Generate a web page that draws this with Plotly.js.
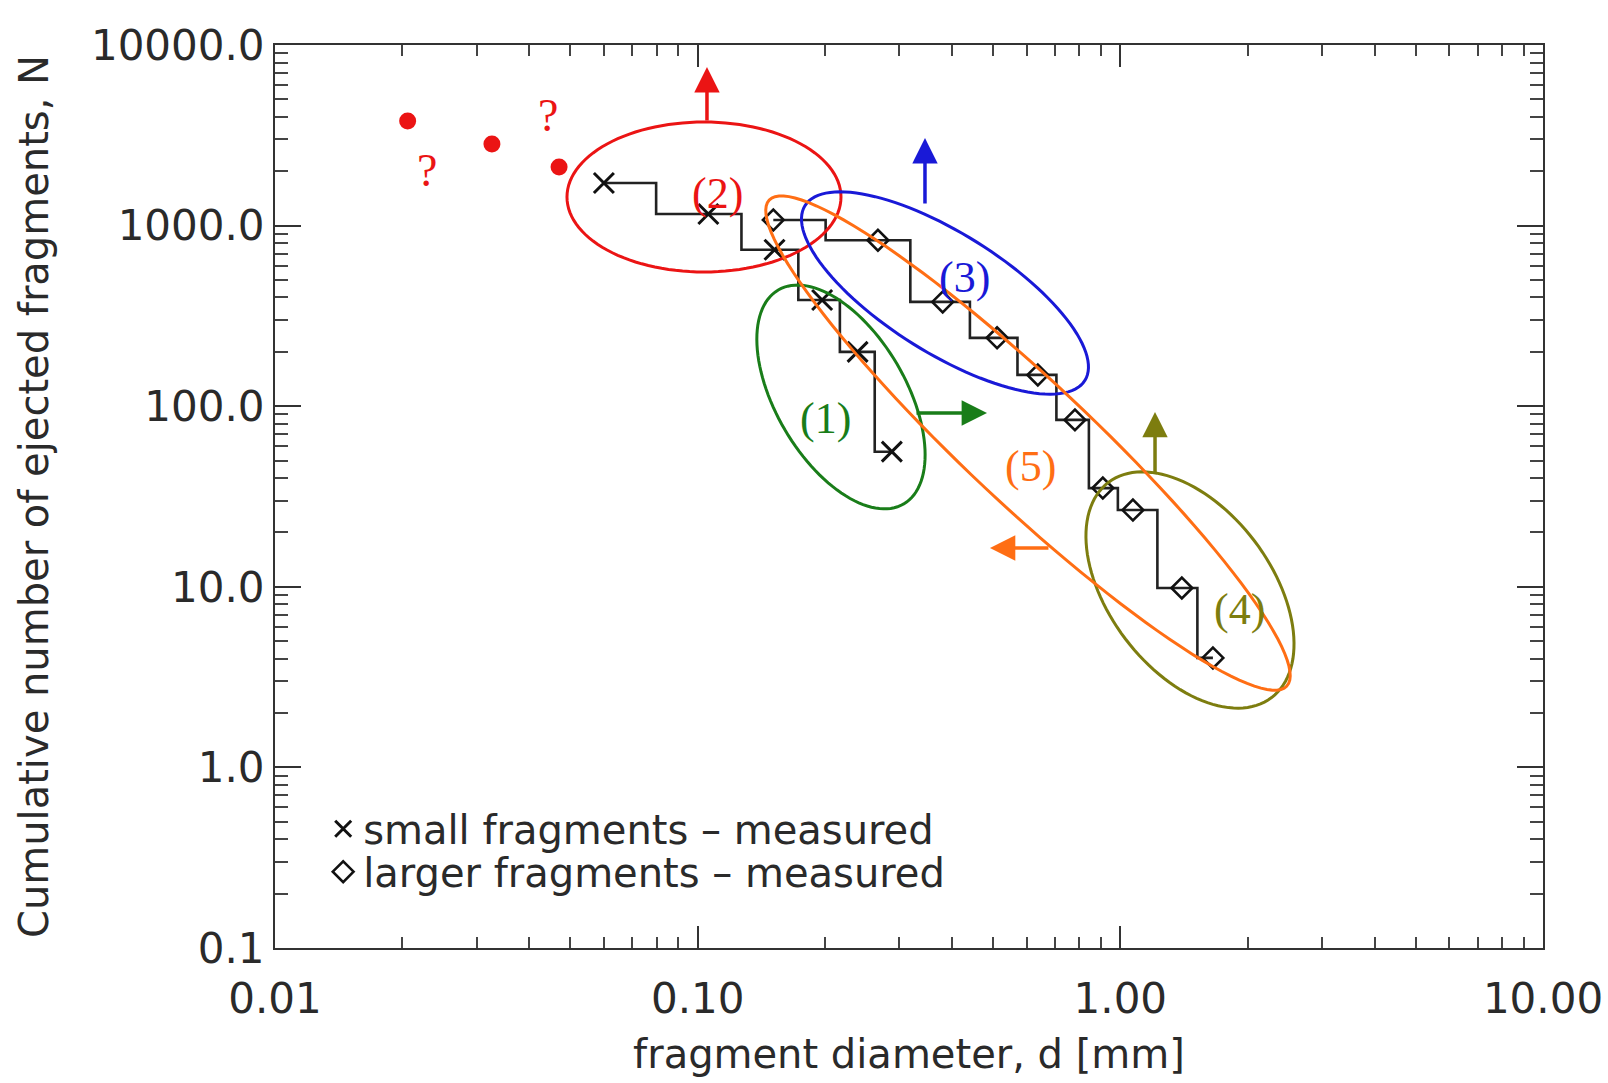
<!DOCTYPE html>
<html><head><meta charset="utf-8">
<script src="https://cdn.plot.ly/plotly-3.0.1.min.js"></script>
<style>html,body{margin:0;padding:0;background:#fff}#chart{width:1608px;height:1083px}</style>
</head><body><div id="chart"></div>
<script>
// ---- data ----
const smallD = [0.060, 0.106, 0.152, 0.197, 0.239, 0.288];
const smallN = [1720, 1160, 735, 387, 200, 56];
const largeD = [0.151, 0.267, 0.380, 0.511, 0.638, 0.781, 0.909, 1.071, 1.398, 1.656];
const largeN = [1075, 830, 378, 239, 149, 84, 35.2, 26.6, 9.85, 4.04];
const estD = [0.0206, 0.0326, 0.047];
const estN = [3800, 2830, 2110];
const qD = [0.0229, 0.0442];
const qN = [2030, 4045];

const xTickVals = [0.01, 0.1, 1, 10];
const xTickText = ['0.01', '0.10', '1.00', '10.00'];
const yTickVals = [0.1, 1, 10, 100, 1000, 10000];
const yTickText = ['0.1', '1.0', '10.0', '100.0', '1000.0', '10000.0'];
const minorMult = [2, 3, 4, 5, 6, 7, 8, 9];

// region labels (1)..(5)
const regionText = ['(1)', '(2)', '(3)', '(4)', '(5)'];
const regionColor = ['rgb(25,125,25)', 'rgb(235,20,20)', 'rgb(25,25,215)', 'rgb(125,125,15)', 'rgb(255,110,20)'];
const regionLabelD = [0.201, 0.1117, 0.429, 1.919, 0.6145];
const regionLabelN = [86.0, 1515, 513, 7.44, 46.1];
// ellipse outlines: centre (data), semi-axes (px), tilt (deg)
const ellCD = [0.2183, 0.1035, 0.3847, 1.4614, 0.6047];
const ellCN = [112.5, 1440, 423.5, 9.60, 62.5];
const ellA = [124, 137, 165, 135, 355];
const ellB = [65, 75, 60, 81, 62];
const ellAng = [59.6, 0, 32, 52.8, 43.2];
// arrows: tip (data), tail offset (px)
const arrD = [0.4836, 0.1052, 0.345, 1.208, 0.4915];
const arrN = [91.7, 7553, 3055, 92.9, 16.4];
const arrAx = [-72, 0, 0, 0, 60];
const arrAy = [0, 55, 67, 63, 0];

// ---- layout geometry ----
const W = 1608, H = 1083;
const M = {l: 275, r: 65, t: 45, b: 135};
const plotW = W - M.l - M.r, plotH = H - M.t - M.b;
const xRange = [-2, 1], yRange = [-1, 4];

const minorX = [], minorY = [];
for (let e = -2; e < 1; e++) minorMult.forEach(m => minorX.push(m * Math.pow(10, e)));
for (let e = -1; e < 4; e++) minorMult.forEach(m => minorY.push(m * Math.pow(10, e)));

const FONT = 'DejaVu Sans';
const lineCol = '#222';

const traces = [
  {x: smallD, y: smallN, mode: 'lines', line: {shape: 'hvh', color: lineCol, width: 2.6}, showlegend: false, hoverinfo: 'skip'},
  {x: largeD, y: largeN, mode: 'lines', line: {shape: 'hvh', color: lineCol, width: 2.6}, showlegend: false, hoverinfo: 'skip'},
  {x: smallD, y: smallN, mode: 'markers', name: 'small fragments – measured', legend: 'legend',
   marker: {symbol: 'x-thin-open', size: 20, color: '#111', line: {color: '#111', width: 3}}},
  {x: largeD, y: largeN, mode: 'markers', name: 'larger fragments – measured', legend: 'legend2',
   marker: {symbol: 'diamond-open', size: 16, color: '#111', line: {color: '#111', width: 2.6}}},
  {x: estD, y: estN, mode: 'markers', showlegend: false,
   marker: {symbol: 'circle', size: 17, color: 'rgb(235,20,20)'}}
];

function toPaperX(v) { return (Math.log10(v) - xRange[0]) / (xRange[1] - xRange[0]); }
function toPaperY(v) { return (Math.log10(v) - yRange[0]) / (yRange[1] - yRange[0]); }

const shapes = ellCD.map((cd, i) => {
  const cx = toPaperX(cd), cy = toPaperY(ellCN[i]);
  const phi = ellAng[i] * Math.PI / 180;
  let p = '';
  for (let k = 0; k <= 120; k++) {
    const t = 2 * Math.PI * k / 120;
    const dx = ellA[i] * Math.cos(t) * Math.cos(phi) - ellB[i] * Math.sin(t) * Math.sin(phi);
    const dy = ellA[i] * Math.cos(t) * Math.sin(phi) + ellB[i] * Math.sin(t) * Math.cos(phi);
    const px = cx + dx / plotW, py = cy - dy / plotH;
    p += (k === 0 ? 'M' : 'L') + px.toFixed(5) + ',' + py.toFixed(5);
  }
  p += 'Z';
  return {type: 'path', xref: 'paper', yref: 'paper', path: p, line: {color: regionColor[i], width: 3}, layer: 'above'};
});

const annotations = [];
regionText.forEach((t, i) => {
  annotations.push({x: Math.log10(regionLabelD[i]), y: Math.log10(regionLabelN[i]), xref: 'x', yref: 'y',
    text: t, showarrow: false, font: {family: 'Liberation Serif', size: 44, color: regionColor[i]}});
  annotations.push({x: Math.log10(arrD[i]), y: Math.log10(arrN[i]), xref: 'x', yref: 'y', text: '',
    showarrow: true, ax: arrAx[i], ay: arrAy[i], arrowhead: 2, arrowsize: 1.45, arrowwidth: 3.5,
    arrowcolor: regionColor[i], standoff: 0, startstandoff: 0});
});
qD.forEach((d, i) => {
  annotations.push({x: Math.log10(d), y: Math.log10(qN[i]), xref: 'x', yref: 'y', text: '?',
    showarrow: false, font: {family: 'Liberation Serif', size: 46, color: 'rgb(235,20,20)'}});
});

const axisCommon = {
  type: 'log', showgrid: false, zeroline: false, showline: true, mirror: 'ticks',
  linecolor: '#333', linewidth: 2, ticks: 'inside', tickwidth: 2, tickcolor: '#333',
  tickmode: 'array', tickfont: {family: FONT, size: 42, color: '#2a2a2a'}
};

const legendCommon = {xanchor: 'left', yanchor: 'top', bgcolor: 'rgba(0,0,0,0)',
  font: {family: FONT, size: 40, color: '#2a2a2a'}, itemsizing: 'trace'};

const layout = {
  width: W, height: H, margin: M,
  paper_bgcolor: '#fff', plot_bgcolor: '#fff',
  showlegend: true,
  legend: Object.assign({x: 0.038, y: 0.168}, legendCommon),
  legend2: Object.assign({x: 0.038, y: 0.1205}, legendCommon),
  xaxis: Object.assign({}, axisCommon, {
    range: xRange, tickvals: xTickVals, ticktext: xTickText, ticklen: 22, ticklabelstandoff: 13,
    minor: {tickmode: 'array', tickvals: minorX, ticks: 'inside', ticklen: 11, tickwidth: 2, tickcolor: '#444', showgrid: false},
    title: {text: 'fragment diameter, d [mm]', font: {family: FONT, size: 40, color: '#2a2a2a'}, standoff: 18}
  }),
  yaxis: Object.assign({}, axisCommon, {
    range: yRange, tickvals: yTickVals, ticktext: yTickText, ticklen: 26, ticklabelstandoff: 0,
    minor: {tickmode: 'array', tickvals: minorY, ticks: 'inside', ticklen: 13, tickwidth: 2, tickcolor: '#444', showgrid: false},
    title: {text: 'Cumulative number of ejected fragments, N', font: {family: FONT, size: 40, color: '#2a2a2a'}, standoff: 30}
  }),
  shapes: shapes,
  annotations: annotations
};

Plotly.newPlot('chart', traces, layout, {staticPlot: true, displayModeBar: false});
</script>
</body></html>
